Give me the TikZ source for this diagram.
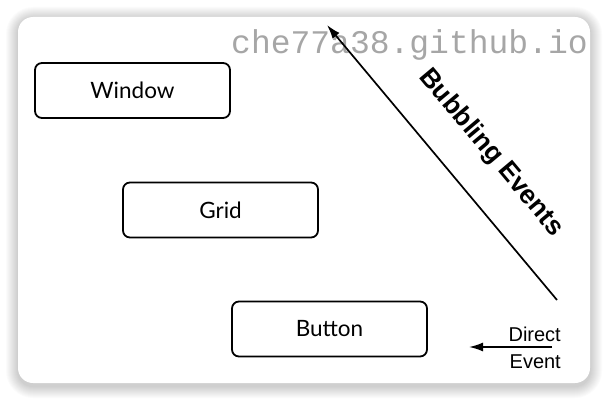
\documentclass[tikz,border=0pt]{standalone}
\usepackage{fontspec}
\setmainfont{Liberation Sans}
\newfontfamily\boxfont{Lato}
\newfontfamily\markfont{Liberation Mono}
\usetikzlibrary{arrows.meta}

\tikzset{
  ctlbox/.style={draw, line width=1.8pt, rounded corners=7pt, minimum width=195pt,
    minimum height=55pt, font=\boxfont\fontsize{22.5}{26}\selectfont},
  evarrow/.style={line width=1.7pt, -{Latex[length=14pt,width=9pt]}},
}

\begin{document}
\begin{tikzpicture}[x=1pt,y=-1pt]
    \useasboundingbox (0,0) rectangle (610,401);
    \fill[white] (0,0) rectangle (610,401);

    % card shadow
    \foreach \s in {1,...,12}
      \fill[black, opacity=0.016, rounded corners=15pt+\s pt]
        (18-\s,19-\s) rectangle (590+\s,386+\s);
    \fill[white, rounded corners=15pt] (18,17) rectangle (590,383);

    % watermark
    \node[anchor=base west, text=black!35, inner sep=0pt,
      font=\markfont\fontsize{33}{36}\selectfont] (mark) at (231,54) {che77a38.github.io};

    \node[ctlbox] (window) at (132.5,90.5) {Window};
    \node[ctlbox] (grid)   at (220.5,210) {Grid};
    \node[ctlbox] (button) at (329.5,329) {Button};

    \coordinate (bubStart) at (557,300);
    \coordinate (bubEnd)   at (327,25);
    \draw[evarrow] (bubStart) -- (bubEnd);
    \node[rotate=-50, font=\bfseries\fontsize{26.5}{30}\selectfont] (bubText) at (491,153) {Bubbling Events};

    \coordinate (dirStart) at (552,347);
    \coordinate (dirEnd)   at (469,347);
    \draw[evarrow] (dirStart) -- (dirEnd);
    \node[anchor=base east, inner sep=0pt, font=\fontsize{20}{22}\selectfont] (dirTop) at (561,341) {Direct};
    \node[anchor=base east, inner sep=0pt, font=\fontsize{20}{22}\selectfont] (dirBot) at (561,368) {Event};
\end{tikzpicture}
\end{document}
